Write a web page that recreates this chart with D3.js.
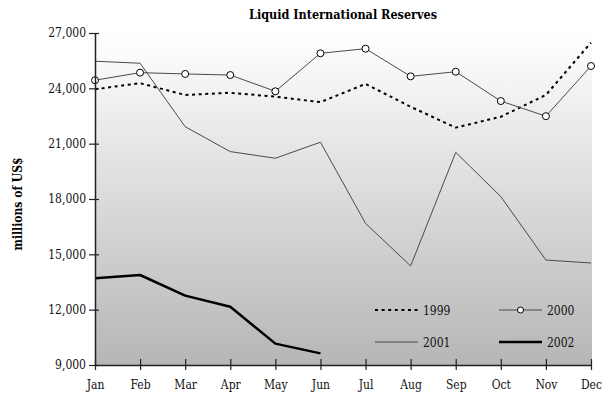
<!DOCTYPE html>
<html>
<head>
<meta charset="utf-8">
<script src="https://cdn.jsdelivr.net/npm/d3@7"></script>
<style>
  html, body { margin: 0; padding: 0; background: #fff; }
  svg { display: block; font-family: "DejaVu Serif Condensed", "DejaVu Serif", "Liberation Serif", serif; }
</style>
</head>
<body>
<svg id="chart" width="609" height="397"></svg>
<script>
// Monthly liquid international reserves, millions of US$
const months = ["Jan","Feb","Mar","Apr","May","Jun","Jul","Aug","Sep","Oct","Nov","Dec"];
const yTicks = [9000, 12000, 15000, 18000, 21000, 24000, 27000];

const y1999 = [23950, 24280, 23640, 23760, 23550, 23250, 24240, 23000, 21870, 22460, 23640, 26480];
const y2000 = [24440, 24850, 24780, 24720, 23840, 25900, 26150, 24650, 24900, 23310, 22490, 25210];
const y2001 = [25470, 25360, 21920, 20570, 20210, 21080, 16680, 14370, 20530, 18130, 14690, 14530];
const y2002 = [13700, 13880, 12760, 12160, 10160, 9630];

const series = [
  { name: "1999", values: y1999, stroke: "#000", width: 2, dash: "3,3.6", markers: false },
  { name: "2000", values: y2000, stroke: "#4a4a4a", width: 1, dash: null, markers: true },
  { name: "2001", values: y2001, stroke: "#4a4a4a", width: 1, dash: null, markers: false },
  { name: "2002", values: y2002, stroke: "#000", width: 2.5, dash: null, markers: false }
];

const svg = d3.select("#chart");
const plotLeft = 95, plotRight = 591, plotTop = 33, plotBottom = 365;

const x = d3.scalePoint().domain(months).range([plotLeft, plotRight]);
const y = d3.scaleLinear().domain([9000, 27000]).range([plotBottom, plotTop]);

// plot background: white at top fading to grey at the bottom
const defs = svg.append("defs");
const grad = defs.append("linearGradient")
  .attr("id", "bg").attr("x1", 0).attr("y1", 0).attr("x2", 0).attr("y2", 1);
grad.append("stop").attr("offset", "0%").attr("stop-color", "#ffffff");
grad.append("stop").attr("offset", "100%").attr("stop-color", "#b6b6b6");

svg.append("rect")
  .attr("x", plotLeft).attr("y", plotTop)
  .attr("width", plotRight - plotLeft + 1).attr("height", plotBottom - plotTop)
  .attr("fill", "url(#bg)");

// title, centred over the plot area
svg.append("text")
  .attr("x", (plotLeft + plotRight) / 2).attr("y", 19)
  .attr("text-anchor", "middle")
  .attr("font-weight", "bold")
  .attr("font-size", 12.5)
  .text("Liquid International Reserves");

// y axis label
svg.append("text")
  .attr("transform", "translate(22,204) rotate(-90)")
  .attr("text-anchor", "middle")
  .attr("font-weight", "bold")
  .attr("font-size", 12)
  .text("millions of US$");

// lines
const line = d3.line()
  .x((d, i) => x(months[i]))
  .y(d => y(d));

series.forEach(s => {
  svg.append("path")
    .datum(s.values)
    .attr("d", line)
    .attr("fill", "none")
    .attr("stroke", s.stroke)
    .attr("stroke-width", s.width)
    .attr("stroke-dasharray", s.dash)
    .attr("stroke-linejoin", "round");
  if (s.markers) {
    svg.append("g").selectAll("circle")
      .data(s.values)
      .join("circle")
      .attr("cx", (d, i) => x(months[i]))
      .attr("cy", d => y(d))
      .attr("r", 3.5)
      .attr("fill", "#fff")
      .attr("stroke", "#000")
      .attr("stroke-width", 1);
  }
});

// axes
const yAxis = d3.axisLeft(y).tickValues(yTicks).tickFormat(d3.format(",")).tickSizeInner(6).tickSizeOuter(0).tickPadding(3);
const gy = svg.append("g").attr("transform", `translate(${plotLeft},0)`).call(yAxis);
gy.selectAll(".tick line").attr("x2", -6).attr("x1", 4);

const xAxis = d3.axisBottom(x).tickSizeInner(6).tickSizeOuter(0).tickPadding(9);
const gx = svg.append("g").attr("transform", `translate(0,${plotBottom})`).call(xAxis);
gx.selectAll(".tick line").attr("y1", -6).attr("y2", 5);

[gx, gy].forEach(g => {
  g.select(".domain").attr("stroke", "#222").attr("stroke-width", 1.5);
  g.selectAll(".tick line").attr("stroke", "#222").attr("stroke-width", 1.2);
  g.selectAll("text").attr("font-size", 12).attr("fill", "#111")
    .attr("font-family", "\"DejaVu Serif Condensed\", \"DejaVu Serif\", serif");
});

// legend
const legendPos = [
  { x: 375, y: 310 }, { x: 499, y: 310 },
  { x: 375, y: 342 }, { x: 499, y: 342 }
];
series.forEach((s, i) => {
  const p = legendPos[i];
  const g = svg.append("g").attr("transform", `translate(${p.x},${p.y})`);
  g.append("line")
    .attr("x1", 0).attr("x2", 43).attr("y1", 0).attr("y2", 0)
    .attr("stroke", s.stroke)
    .attr("stroke-width", s.width)
    .attr("stroke-dasharray", s.dash);
  if (s.markers) {
    g.append("circle").attr("cx", 21.5).attr("cy", 0).attr("r", 3)
      .attr("fill", "#fff").attr("stroke", "#000");
  }
  g.append("text")
    .attr("x", 48).attr("y", 4.5)
    .attr("font-size", 12)
    .attr("fill", "#111")
    .text(s.name);
});
</script>
</body>
</html>
